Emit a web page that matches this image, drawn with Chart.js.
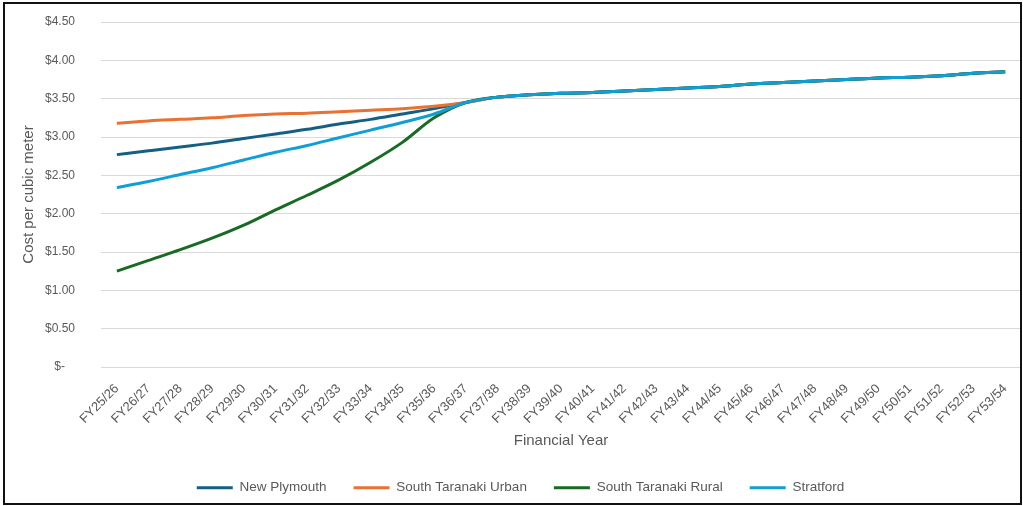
<!DOCTYPE html>
<html>
<head>
<meta charset="utf-8">
<title>Cost per cubic meter</title>
<script src="https://cdn.jsdelivr.net/npm/chart.js@4"></script>
<style>
    body { margin: 0; background: #fff; }
    #wrap { position: relative; width: 1023px; height: 506px; }
    #frame {
        position: absolute; left: 3px; top: 2px; width: 1019px; height: 503px;
        box-sizing: border-box; border: 2px solid #111; pointer-events: none;
    }
</style>
</head>
<body>
<div id="wrap">
    <canvas id="costChart" width="1023" height="506"></canvas>
    <div id="frame"></div>
</div>
<script>
const years = ["FY25/26", "FY26/27", "FY27/28", "FY28/29", "FY29/30", "FY30/31", "FY31/32", "FY32/33",
    "FY33/34", "FY34/35", "FY35/36", "FY36/37", "FY37/38", "FY38/39", "FY39/40", "FY40/41", "FY41/42",
    "FY42/43", "FY43/44", "FY44/45", "FY45/46", "FY46/47", "FY47/48", "FY48/49", "FY49/50", "FY50/51",
    "FY51/52", "FY52/53", "FY53/54"];

const newPlymouth = [2.77, 2.82, 2.87, 2.92, 2.98, 3.04, 3.10, 3.17, 3.23, 3.30, 3.37, 3.45, 3.52, 3.55,
    3.57, 3.58, 3.60, 3.62, 3.64, 3.66, 3.69, 3.71, 3.73, 3.75, 3.77, 3.78, 3.80, 3.83, 3.85];
const southTaranakiUrban = [3.18, 3.21, 3.23, 3.25, 3.28, 3.30, 3.31, 3.33, 3.35, 3.37, 3.40, 3.45, 3.52, 3.55,
    3.57, 3.58, 3.60, 3.62, 3.64, 3.66, 3.69, 3.71, 3.73, 3.75, 3.77, 3.78, 3.80, 3.83, 3.85];
const southTaranakiRural = [1.25, 1.39, 1.53, 1.68, 1.85, 2.05, 2.24, 2.44, 2.67, 2.93, 3.25, 3.45, 3.52, 3.55,
    3.57, 3.58, 3.60, 3.62, 3.64, 3.66, 3.69, 3.71, 3.73, 3.75, 3.77, 3.78, 3.80, 3.83, 3.85];
const stratford = [2.34, 2.42, 2.51, 2.60, 2.70, 2.80, 2.89, 2.99, 3.09, 3.19, 3.30, 3.45, 3.52, 3.55,
    3.57, 3.58, 3.60, 3.62, 3.64, 3.66, 3.69, 3.71, 3.73, 3.75, 3.77, 3.78, 3.80, 3.83, 3.85];

const yTicks = [0, 0.5, 1, 1.5, 2, 2.5, 3, 3.5, 4, 4.5];

const gray = "#595959";
const fontFamily = "'Liberation Sans', Arial, sans-serif";

function series(label, data, color, order) {
    return {
        label: label,
        data: data,
        borderColor: color,
        backgroundColor: color,
        borderWidth: 3,
        pointRadius: 0,
        cubicInterpolationMode: "monotone",
        order: order
    };
}

// legend keeps its wide item spacing but doesn't need all that height
const legendHeight = {
    id: "legendHeight",
    afterInit(chart) {
        const fit = chart.legend.fit;
        chart.legend.fit = function () {
            fit.call(this);
            this.height = 52;
        };
    }
};

let ctx = document.getElementById("costChart").getContext("2d");
let chart = new Chart(ctx, {
    type: "line",
    data: {
        labels: years,
        datasets: [
            series("New Plymouth", newPlymouth, "#156082", 4),
            series("South Taranaki Urban", southTaranakiUrban, "#E97132", 3),
            series("South Taranaki Rural", southTaranakiRural, "#196B24", 2),
            series("Stratford", stratford, "#0F9ED5", 1)
        ]
    },
    options: {
        responsive: false,
        animation: false,
        layout: { padding: { left: 20, right: 2, top: 22, bottom: 0 } },
        scales: {
            x: {
                offset: true,
                grid: { display: false },
                border: { display: false },
                ticks: {
                    autoSkip: false,
                    maxRotation: 45,
                    minRotation: 45,
                    padding: 6,
                    color: gray,
                    font: { family: fontFamily, size: 13 }
                },
                title: {
                    display: true,
                    text: "Financial Year",
                    color: gray,
                    font: { family: fontFamily, size: 15 },
                    padding: { top: 0, bottom: 4 }
                },
                afterFit(scale) { scale.height = 87; }
            },
            y: {
                min: 0,
                max: 4.5,
                afterBuildTicks(scale) {
                    scale.ticks = yTicks.map(v => ({ value: v }));
                },
                // invisible tick marks push the labels away from the plot
                grid: { color: "#d9d9d9", lineWidth: 1, drawTicks: true, tickLength: 23, tickColor: "rgba(0,0,0,0)" },
                border: { display: false },
                ticks: {
                    padding: 3,
                    color: gray,
                    font: { family: fontFamily, size: 12 },
                    callback: v => v === 0 ? "$-   " : "$" + v.toFixed(2)
                },
                title: {
                    display: true,
                    text: "Cost per cubic meter",
                    color: gray,
                    font: { family: fontFamily, size: 15 },
                    padding: { top: 0, bottom: 0 }
                },
                afterFit(scale) { scale.width = 81; }
            }
        },
        plugins: {
            legend: {
                position: "bottom",
                labels: {
                    usePointStyle: true,
                    pointStyle: "line",
                    pointStyleWidth: 36,
                    padding: 27,
                    color: gray,
                    font: { family: fontFamily, size: 13.5 },
                    sort: (a, b) => a.datasetIndex - b.datasetIndex
                }
            },
            tooltip: { enabled: false }
        }
    },
    plugins: [legendHeight]
});
</script>
</body>
</html>
